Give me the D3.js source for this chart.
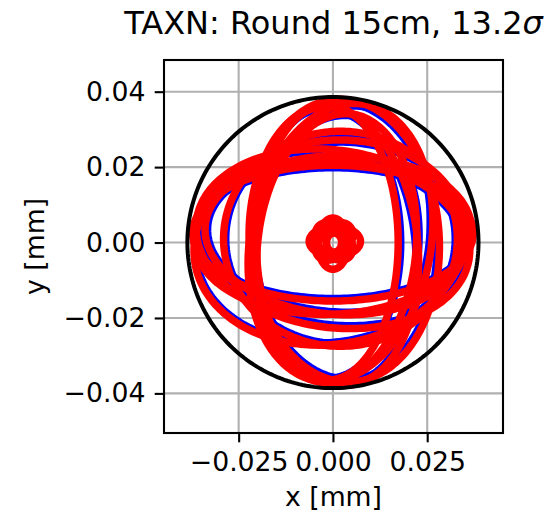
<!DOCTYPE html>
<html>
<head>
<meta charset="utf-8">
<script src="https://cdn.jsdelivr.net/npm/d3@7"></script>
<style>
  body { margin: 0; background: #fff; }
  text { font-family: "DejaVu Sans", sans-serif; fill: #000; }
</style>
</head>
<body>
<svg id="chart" width="555" height="513"></svg>
<script>
// ---- chart values ----
const titleText = "TAXN: Round 15cm, 13.2";
const titleSymbol = "σ";
const xLabel = "x [mm]";
const yLabel = "y [mm]";
const xTicks = [-0.025, 0.0, 0.025];
const yTicks = [-0.04, -0.02, 0.0, 0.02, 0.04];
const xDomain = [-0.0448, 0.0451];
const yDomain = [-0.0505, 0.0484];
const apertureRadius = 0.0386;

// Orbits: centre (cx, cy), semi-axes (a along angle, b across), angle in degrees
const blueCx    = [0.0000, 0.0000, 0.0005, 0.0020, -0.0010, 0.0030, -0.0015, 0.0005, 0.0010, 0.0020, 0.0000, 0.0005, 0.0000, 0.0003, 0.0003, 0.0003, 0.0003];
const blueCy    = [0.0025, 0.0020, 0.0015, 0.0010, 0.0000, 0.0005, 0.0000, -0.0010, -0.0015, 0.0000, 0.0010, 0.0003, -0.0003, 0.0003, 0.0003, 0.0000, 0.0000];
const blueA     = [0.0362, 0.0356, 0.0333, 0.0299, 0.0349, 0.0362, 0.0355, 0.0360, 0.0348, 0.0360, 0.0355, 0.0070, 0.0070, 0.0060, 0.0060, 0.0042, 0.0027];
const blueB     = [0.0168, 0.0212, 0.0193, 0.0273, 0.0259, 0.0240, 0.0200, 0.0208, 0.0222, 0.0228, 0.0222, 0.0042, 0.0042, 0.0041, 0.0041, 0.0031, 0.0021];
const blueAngle = [0, 3, -5, 0, 8, 93, 90, 96, 84, 80, -8, 0, 90, 45, 135, 0, 90];

const redCx    = [0.0000, 0.0000, 0.0005, 0.0020, -0.0010, 0.0030, -0.0015, 0.0005, 0.0010, 0.0020, 0.0000, 0.0005, 0.0000, 0.0003, 0.0003, 0.0003, 0.0003];
const redCy    = [0.0025, 0.0020, 0.0015, 0.0010, 0.0000, 0.0005, 0.0000, -0.0010, -0.0015, 0.0000, 0.0010, 0.0003, -0.0003, 0.0003, 0.0003, 0.0000, 0.0000];
const redA     = [0.0372, 0.0368, 0.0345, 0.0310, 0.0360, 0.0375, 0.0365, 0.0370, 0.0358, 0.0372, 0.0365, 0.0068, 0.0068, 0.0058, 0.0058, 0.0040, 0.0025];
const redB     = [0.0180, 0.0210, 0.0205, 0.0285, 0.0270, 0.0252, 0.0188, 0.0220, 0.0210, 0.0240, 0.0235, 0.0040, 0.0040, 0.0040, 0.0040, 0.0030, 0.0020];
const redAngle = [0, 3, -5, 0, 8, 93, 90, 96, 84, 80, -8, 0, 90, 45, 135, 0, 90];

// ---- layout ----
const margin = { left: 164, top: 60, right: 52, bottom: 80 };
const width = 555 - margin.left - margin.right;
const height = 513 - margin.top - margin.bottom;
const tickFont = 26.7;

const svg = d3.select("#chart");
const x = d3.scaleLinear().domain(xDomain).range([margin.left, margin.left + width]);
const y = d3.scaleLinear().domain(yDomain).range([margin.top + height, margin.top]);

// grid
const grid = svg.append("g").attr("stroke", "#b0b0b0").attr("stroke-width", 2.1);
grid.selectAll(".gx").data(xTicks).join("line")
  .attr("x1", d => x(d)).attr("x2", d => x(d))
  .attr("y1", margin.top).attr("y2", margin.top + height);
grid.selectAll(".gy").data(yTicks).join("line")
  .attr("y1", d => y(d)).attr("y2", d => y(d))
  .attr("x1", margin.left).attr("x2", margin.left + width);

// clip to the axes box
svg.append("clipPath").attr("id", "plotClip").append("rect")
  .attr("x", margin.left).attr("y", margin.top).attr("width", width).attr("height", height);
const plot = svg.append("g").attr("clip-path", "url(#plotClip)");

// ellipse outline sampled along its parameter
function orbit(cx, cy, a, b, angleDeg) {
  const th = angleDeg * Math.PI / 180;
  const n = 240;
  return d3.range(n).map(i => {
    const t = 2 * Math.PI * i / n;
    const u = a * Math.cos(t), v = b * Math.sin(t);
    return [cx + u * Math.cos(th) - v * Math.sin(th), cy + u * Math.sin(th) + v * Math.cos(th)];
  });
}
const line = d3.line().x(d => x(d[0])).y(d => y(d[1])).curve(d3.curveLinearClosed);

const blueOrbits = blueCx.map((c, i) => orbit(c, blueCy[i], blueA[i], blueB[i], blueAngle[i]));
const redOrbits = redCx.map((c, i) => orbit(c, redCy[i], redA[i], redB[i], redAngle[i]));

plot.selectAll(".blue").data(blueOrbits).join("path")
  .attr("class", "blue").attr("d", line)
  .attr("fill", "none").attr("stroke", "#0000ff").attr("stroke-width", 3.5);
plot.selectAll(".red").data(redOrbits).join("path")
  .attr("class", "red").attr("d", line)
  .attr("fill", "none").attr("stroke", "#ff0000").attr("stroke-width", 7.5);

// aperture
plot.append("path")
  .attr("d", line(orbit(0, 0, apertureRadius, apertureRadius, 0)))
  .attr("fill", "none").attr("stroke", "#000").attr("stroke-width", 4);

// axes frame
svg.append("rect")
  .attr("x", margin.left).attr("y", margin.top).attr("width", width).attr("height", height)
  .attr("fill", "none").attr("stroke", "#000").attr("stroke-width", 2.1);

// axes
const fmtX = d3.format(".3f"), fmtY = d3.format(".2f");
const xAxis = svg.append("g").attr("transform", `translate(0,${margin.top + height})`)
  .call(d3.axisBottom(x).tickValues(xTicks).tickFormat(fmtX).tickSize(9.3).tickPadding(9.3));
const yAxis = svg.append("g").attr("transform", `translate(${margin.left},0)`)
  .call(d3.axisLeft(y).tickValues(yTicks).tickFormat(fmtY).tickSize(9.3).tickPadding(9.3));
[xAxis, yAxis].forEach(g => {
  g.select(".domain").remove();
  g.selectAll(".tick line").attr("stroke", "#000").attr("stroke-width", 2.1);
  g.selectAll(".tick text").style("font-size", tickFont + "px").attr("font-family", "DejaVu Sans").attr("fill", "#000");
});

// labels
svg.append("text").attr("x", margin.left + width / 2).attr("y", 506)
  .attr("text-anchor", "middle").style("font-size", tickFont + "px").text(xLabel);
svg.append("text").attr("transform", `translate(44,${margin.top + height / 2}) rotate(-90)`)
  .attr("text-anchor", "middle").style("font-size", tickFont + "px").text(yLabel);

const title = svg.append("text").attr("x", margin.left + width / 2).attr("y", 34)
  .attr("text-anchor", "middle").style("font-size", "32px");
title.append("tspan").text(titleText);
title.append("tspan").attr("font-style", "italic").text(titleSymbol);
</script>
</body>
</html>
